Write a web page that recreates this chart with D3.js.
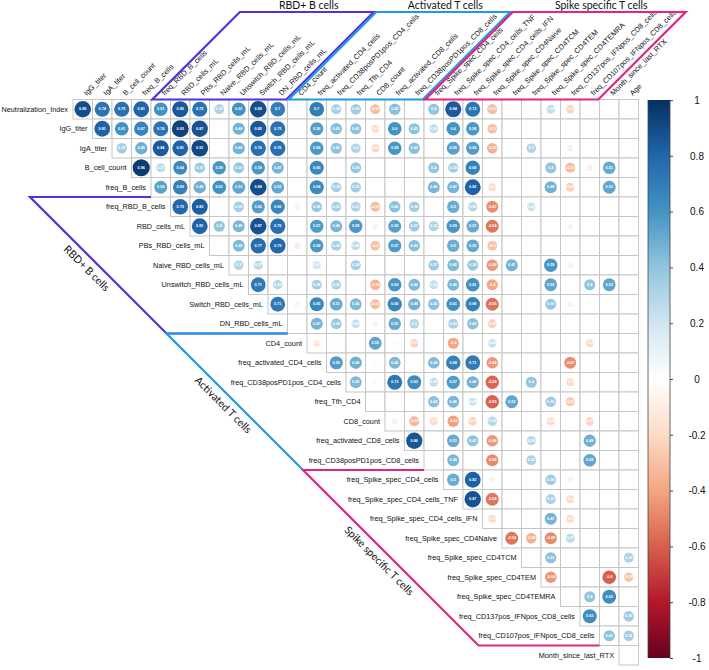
<!DOCTYPE html>
<html>
<head>
<meta charset="utf-8">
<script src="https://cdn.jsdelivr.net/npm/d3@7"></script>
<style>
  html, body { margin: 0; padding: 0; background: #fff; }
  svg { display: block; }
</style>
</head>
<body>
<svg id="chart" width="709" height="670"></svg>
<script>
// ---------------- DATA ----------------
const colLabels = [
  "IgG_titer","IgA_titer","B_cell_count","freq_B_cells","freq_RBD_B_cells",
  "RBD_cells_mL","PBs_RBD_cells_mL","Naive_RBD_cells_mL","Unswitch_RBD_cells_mL",
  "Switch_RBD_cells_mL","DN_RBD_cells_mL","CD4_count","freq_activated_CD4_cells",
  "freq_CD38posPD1pos_CD4_cells","freq_Tfh_CD4","CD8_count","freq_activated_CD8_cells",
  "freq_CD38posPD1pos_CD8_cells","freq_Spike_spec_CD4_cells","freq_Spike_spec_CD4_cells_TNF",
  "freq_Spike_spec_CD4_cells_IFN","freq_Spike_spec_CD4Naive","freq_Spike_spec_CD4TCM",
  "freq_Spike_spec_CD4TEM","freq_Spike_spec_CD4TEMRA","freq_CD137pos_IFNpos_CD8_cells",
  "freq_CD107pos_IFNpos_CD8_cells","Month_since_last_RTX","Age"
];
const rowLabels = ["Neutralization_Index"].concat(colLabels.slice(0, 28));

// Each row lists correlations from its first (upper-triangle) column to "Age"; null = not significant
const rowNeutralization = [0.89,0.74,0.75,0.81,0.61,0.85,0.75,0.32,0.61,0.89,0.70,-0.05,0.70,0.34,0.36,-0.32,0.42,null,0.40,0.84,0.73,-0.32,null,null,0.25,-0.23,null,null,null];
const rowIgG = [0.81,0.61,0.67,0.74,0.93,0.87,null,0.48,0.85,0.75,-0.05,0.56,0.43,0.41,-0.20,0.60,0.41,0.26,0.60,0.58,-0.30,null,null,null,null,null,null,null];
const rowIgA = [0.35,0.49,0.84,0.81,0.91,null,0.48,0.76,0.76,0.03,0.58,0.41,0.30,-0.22,0.59,0.42,null,0.55,0.56,-0.36,null,0.30,null,-0.12,null,null,null];
const rowBcount = [0.96,0.27,0.64,0.37,0.59,0.39,0.59,0.47,null,0.65,null,0.39,null,null,null,0.40,0.34,0.68,null,null,null,0.40,-0.32,-0.12,0.51,null];
const rowFreqB = [0.54,0.69,0.49,0.61,0.53,0.89,0.52,null,0.64,0.34,0.35,null,null,null,0.46,0.47,0.82,-0.20,null,null,0.48,-0.25,null,0.53,null];
const rowFreqRBD = [0.79,0.83,null,0.35,0.56,0.66,-0.10,0.38,0.33,0.31,-0.31,0.42,0.36,null,0.50,0.29,-0.47,null,0.23,null,null,null,null,null];
const rowRBDmL = [0.81,0.40,0.46,0.87,0.76,null,0.57,0.46,0.58,-0.10,0.55,0.37,0.32,0.59,0.51,-0.54,null,null,null,-0.10,null,null,null];
const rowPBs = [null,0.45,0.77,0.79,-0.13,0.58,0.34,0.26,-0.30,0.57,0.43,null,0.50,0.52,-0.30,null,null,null,null,null,null,null];
const rowNaiveRBD = [0.30,0.27,null,null,0.20,null,0.34,null,null,null,0.37,0.45,0.39,-0.44,0.47,null,0.59,-0.10,null,null,null];
const rowUnswitch = [0.71,0.29,null,0.34,0.31,null,-0.35,0.59,0.45,0.25,0.46,0.61,-0.40,null,null,0.53,null,0.40,0.53,null];
const rowSwitch = [0.71,-0.10,0.65,0.51,0.45,-0.32,0.66,0.48,0.42,0.61,0.68,-0.55,null,null,0.39,-0.10,null,null,null];
const rowDN = [null,0.47,0.38,0.24,-0.10,0.51,0.30,null,0.33,0.42,-0.25,null,null,null,null,null,null,null];
const rowCD4count = [-0.15,-0.06,null,0.53,0.05,-0.23,null,-0.40,null,0.23,null,null,null,null,-0.20,null,null];
const rowActCD4 = [0.56,0.49,0.05,0.45,null,0.44,0.68,0.71,-0.44,null,null,null,-0.47,null,null,null];
const rowPD1CD4 = [0.45,0.05,0.73,0.63,0.25,0.57,0.48,-0.58,null,0.40,null,-0.20,null,null,null];
const rowTfh = [null,null,null,0.42,0.46,0.22,-0.59,0.53,null,0.36,-0.27,null,null,null];
const rowCD8count = [-0.10,-0.33,-0.20,-0.42,-0.23,0.29,null,null,-0.20,null,-0.23,null,null];
const rowActCD8 = [0.86,null,0.51,0.41,-0.44,null,0.28,null,null,0.49,null,null];
const rowPD1CD8 = [null,0.46,null,-0.48,null,0.32,null,null,0.52,null,null];
const rowSpikeCD4 = [0.50,0.82,-0.10,null,null,0.36,-0.10,null,null,null];
const rowSpikeTNF = [0.87,-0.54,null,null,0.33,-0.20,null,null,null];
const rowSpikeIFN = [-0.20,null,null,0.47,-0.20,null,null,null];
const rowCD4Naive = [-0.54,-0.36,-0.48,0.27,null,null,null];
const rowTCM = [null,0.41,null,null,null,0.32];
const rowTEM = [-0.44,null,null,-0.60,-0.29];
const rowTEMRA = [null,0.40,0.63,null];
const rowCD137 = [0.63,null,0.36];
const rowCD107 = [0.41,0.35];
const rowMonth = [null];

const matrixRows = [rowNeutralization,rowIgG,rowIgA,rowBcount,rowFreqB,rowFreqRBD,rowRBDmL,rowPBs,
  rowNaiveRBD,rowUnswitch,rowSwitch,rowDN,rowCD4count,rowActCD4,rowPD1CD4,rowTfh,rowCD8count,
  rowActCD8,rowPD1CD8,rowSpikeCD4,rowSpikeTNF,rowSpikeIFN,rowCD4Naive,rowTCM,rowTEM,rowTEMRA,
  rowCD137,rowCD107,rowMonth];

const groupNames = ["RBD+ B cells", "Activated T cells", "Spike specific T cells"];
const groupStart = ["freq_RBD_B_cells", "CD4_count", "freq_Spike_spec_CD4_cells"];
const groupEnd = ["DN_RBD_cells_mL", "freq_CD38posPD1pos_CD8_cells", "freq_CD107pos_IFNpos_CD8_cells"];
const groupColors = ["#5330E0", "#1F9AE6", "#E6237F"];

const legendTicks = [1, 0.8, 0.6, 0.4, 0.2, 0, -0.2, -0.4, -0.6, -0.8, -1];
const palette = ["#67001F","#B2182B","#D6604D","#F4A582","#FDDBC7","#FFFFFF","#D1E5F0","#92C5DE","#4393C3","#2166AC","#053061"];

// ---------------- LAYOUT ----------------
const svg = d3.select("#chart");
const cell = 19.5;
const X0 = 73, Y0 = 99.5;
const x = d3.scaleBand().domain(colLabels).range([X0, X0 + cell * colLabels.length]);
const y = d3.scaleBand().domain(rowLabels).range([Y0, Y0 + cell * rowLabels.length]);
const bw = x.bandwidth();
const color = d3.scaleLinear().domain(d3.range(11).map(i => -1 + i * 0.2)).range(palette).clamp(true);
const rScale = d3.scaleSqrt().domain([0, 1]).range([0, 0.45 * bw]);
const FONT = "'Liberation Sans', Arial, Helvetica, sans-serif";
const fmt = v => String(parseFloat(v.toFixed(2)));

// flatten cells
const cells = [];
matrixRows.forEach((vals, i) => {
  vals.forEach((v, k) => {
    cells.push({ row: rowLabels[i], col: colLabels[i + k], v: v });
  });
});

// grid
svg.append("g").selectAll("rect").data(cells).join("rect")
  .attr("x", d => x(d.col)).attr("y", d => y(d.row))
  .attr("width", bw).attr("height", bw)
  .attr("fill", "#fff").attr("stroke", "#c6c6c6").attr("stroke-width", 1);

// circles
const sig = cells.filter(d => d.v !== null);
svg.append("g").selectAll("circle").data(sig).join("circle")
  .attr("cx", d => x(d.col) + bw / 2).attr("cy", d => y(d.row) + bw / 2)
  .attr("r", d => rScale(Math.abs(d.v)))
  .attr("fill", d => color(d.v));

svg.append("g").selectAll("text").data(sig).join("text")
  .attr("x", d => x(d.col) + bw / 2).attr("y", d => y(d.row) + bw / 2)
  .attr("text-anchor", "middle").attr("dominant-baseline", "central")
  .attr("font-family", FONT).attr("font-size", 3.8).attr("font-weight", "bold")
  .attr("fill", "#fff")
  .text(d => fmt(d.v));

// row labels
svg.append("g").selectAll("text").data(rowLabels).join("text")
  .attr("x", (d, i) => x(colLabels[i]) - 5)
  .attr("y", d => y(d) + bw / 2)
  .attr("text-anchor", "end").attr("dominant-baseline", "central")
  .attr("font-family", FONT).attr("font-size", 7.3).attr("fill", "#111")
  .text(d => d);

// column labels
svg.append("g").selectAll("text").data(colLabels).join("text")
  .attr("transform", d => `translate(${x(d) + bw / 2 + 4},${Y0 - 3.5}) rotate(-45)`)
  .attr("text-anchor", "start")
  .attr("font-family", FONT).attr("font-size", 7.4).attr("fill", "#111")
  .text(d => d);

// ---------------- GROUP BRACKETS ----------------
const topY = 12;
const hTop = Y0 - topY;
const gTop = svg.append("g");
groupNames.forEach((name, g) => {
  const xL = x(groupStart[g]) + 1.3;
  const xR = x(groupEnd[g]) + bw - 1.3;
  const pts = [[xL, Y0], [xR, Y0], [xR + hTop, topY], [xL + hTop, topY]];
  gTop.append("polygon")
    .attr("points", pts.map(p => p.join(",")).join(" "))
    .attr("fill", "none").attr("stroke", groupColors[g]).attr("stroke-width", 2.2)
    .attr("stroke-linejoin", "miter");
  gTop.append("text")
    .attr("x", (xL + xR) / 2 + hTop + 2).attr("y", topY - 3.5)
    .attr("text-anchor", "middle")
    .attr("font-family", "Lato, 'Open Sans', sans-serif").attr("font-size", 10.5)
    .attr("fill", "#111")
    .text(name);
});

// left (diagonal) brackets
const diagOffset = Y0 + 5 * cell - 30; // x = y - diagOffset
const gLeft = svg.append("g");
groupNames.forEach((name, g) => {
  const iS = rowLabels.indexOf(groupStart[g]);
  const iE = rowLabels.indexOf(groupEnd[g]);
  const yT = y(rowLabels[iS]);
  const yB = y(rowLabels[iE]) + bw;
  const xT = yT - diagOffset;
  const xB = yB - diagOffset;
  const pts = [[x(colLabels[iS - 1]), yT], [xT, yT], [xB, yB], [x(colLabels[iE]), yB]];
  gLeft.append("polyline")
    .attr("points", pts.map(p => p.join(",")).join(" "))
    .attr("fill", "none").attr("stroke", groupColors[g]).attr("stroke-width", 2.2)
    .attr("stroke-linejoin", "miter");
  const mx = (xT + xB) / 2, my = (yT + yB) / 2;
  const perp = 10, along = -6;
  const tx = mx - perp * Math.SQRT1_2 + along * Math.SQRT1_2;
  const ty = my + perp * Math.SQRT1_2 + along * Math.SQRT1_2;
  gLeft.append("text")
    .attr("transform", `translate(${tx},${ty}) rotate(45)`)
    .attr("text-anchor", "middle").attr("dominant-baseline", "central")
    .attr("font-family", "Lato, 'Open Sans', sans-serif").attr("font-size", 10.5)
    .attr("fill", "#111")
    .text(name);
});

// ---------------- COLOUR LEGEND ----------------
const cbX = 648, cbW = 22, cbTop = 100, cbBot = 658;
const cbScale = d3.scaleLinear().domain([1, -1]).range([cbTop, cbBot]);
const defs = svg.append("defs");
const grad = defs.append("linearGradient").attr("id", "cbgrad")
  .attr("x1", 0).attr("y1", 0).attr("x2", 0).attr("y2", 1);
palette.slice().reverse().forEach((c, i) => {
  grad.append("stop").attr("offset", (i / (palette.length - 1)) * 100 + "%").attr("stop-color", c);
});
svg.append("rect").attr("x", cbX).attr("y", cbTop).attr("width", cbW).attr("height", cbBot - cbTop)
  .attr("fill", "url(#cbgrad)");
svg.append("line").attr("x1", cbX).attr("x2", cbX).attr("y1", cbTop).attr("y2", cbBot)
  .attr("stroke", "#444").attr("stroke-width", 0.8);
svg.append("line").attr("x1", cbX + cbW).attr("x2", cbX + cbW).attr("y1", cbTop).attr("y2", cbBot)
  .attr("stroke", "#444").attr("stroke-width", 0.8);

const axis = d3.axisRight(cbScale).tickValues(legendTicks).tickSize(3).tickPadding(20)
  .tickFormat(v => String(Math.round(v * 10) / 10));
const axG = svg.append("g").attr("transform", `translate(${cbX + cbW},0)`).call(axis);
axG.select(".domain").remove();
axG.selectAll(".tick line").attr("stroke", "#444");
axG.selectAll(".tick text")
  .attr("x", 27).attr("text-anchor", "middle")
  .attr("font-family", FONT).attr("font-size", 10).attr("fill", "#111");
</script>
</body>
</html>
